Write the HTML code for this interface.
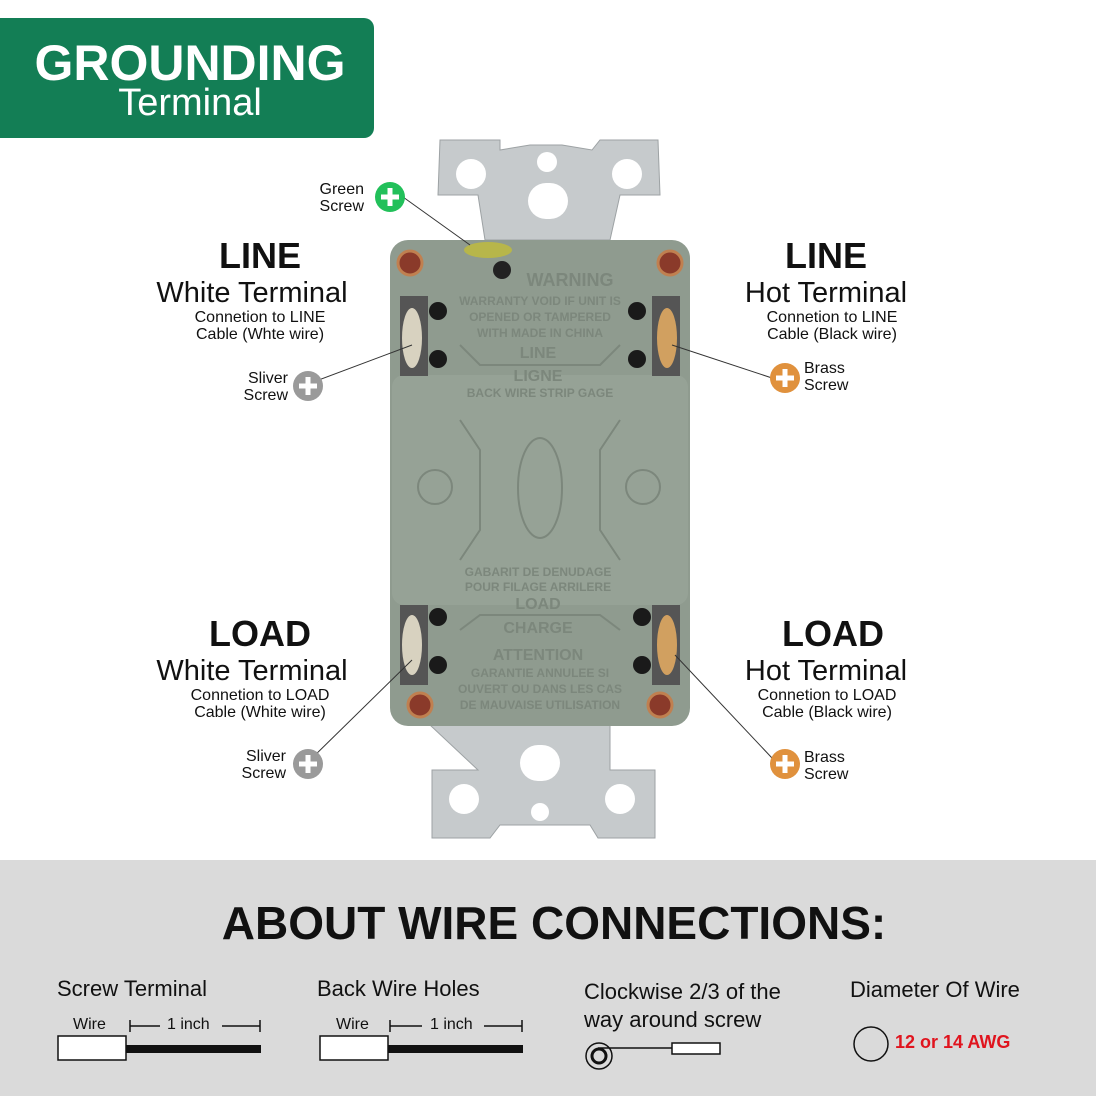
<!DOCTYPE html>
<html><head><meta charset="utf-8"><style>
body{margin:0;width:1096px;height:1096px;background:#fff;position:relative;overflow:hidden;font-family:"Liberation Sans","DejaVu Sans",sans-serif;}
.a{position:absolute;}
.t{position:absolute;text-align:center;color:#111;line-height:1;}
</style></head><body>
<div class="a" style="left:0;top:18px;width:374px;height:120px;background:#137e55;border-radius:0 10px 10px 0"></div>
<div class="t" style="left:0;top:38px;width:380px;color:#fff;font-size:50px;font-weight:bold">GROUNDING</div>
<div class="t" style="left:0;top:84px;width:380px;color:#fff;font-size:38px">Terminal</div>

<svg class="a" style="left:0;top:0" width="1096" height="860">
<!-- strap -->
<path d="M440 140 L500 140 L500 150 L530 145 L562 145 L592 150 L600 140 L658 140 L660 195 L620 195 L610 240 L485 240 L478 195 L438 195 Z" fill="#c6cacc" stroke="#9da2a4"/>
<path d="M430 725 L610 725 L610 770 L655 770 L655 838 L598 838 L590 825 L500 825 L490 838 L432 838 L432 770 L478 770 Z" fill="#c6cacc" stroke="#9da2a4"/>
<circle cx="471" cy="174" r="15" fill="#fff"/><circle cx="627" cy="174" r="15" fill="#fff"/><circle cx="547" cy="162" r="10" fill="#fff"/>
<rect x="528" y="183" width="40" height="36" rx="18" fill="#fff"/>
<circle cx="464" cy="799" r="15" fill="#fff"/><circle cx="620" cy="799" r="15" fill="#fff"/><circle cx="540" cy="812" r="9" fill="#fff"/>
<rect x="520" y="745" width="40" height="36" rx="18" fill="#fff"/>
<!-- body -->
<rect x="390" y="240" width="300" height="486" rx="18" fill="#8f9b8f"/>
<rect x="392" y="375" width="296" height="230" rx="12" fill="#96a296"/>
<!-- side slots -->
<rect x="400" y="296" width="28" height="80" fill="#555"/><rect x="652" y="296" width="28" height="80" fill="#555"/>
<rect x="400" y="605" width="28" height="80" fill="#555"/><rect x="652" y="605" width="28" height="80" fill="#555"/>
<ellipse cx="412" cy="338" rx="10" ry="30" fill="#d8d2c0"/><ellipse cx="667" cy="338" rx="10" ry="30" fill="#d1a060"/>
<ellipse cx="412" cy="645" rx="10" ry="30" fill="#d8d2c0"/><ellipse cx="667" cy="645" rx="10" ry="30" fill="#d1a060"/>
<!-- green screw -->
<ellipse cx="488" cy="250" rx="24" ry="8" fill="#b7b64a"/>
<circle cx="502" cy="270" r="9" fill="#222"/>
<!-- corner screws -->
<g fill="#8a3a2a" stroke="#c08050" stroke-width="3">
<circle cx="410" cy="263" r="12"/><circle cx="670" cy="263" r="12"/><circle cx="420" cy="705" r="12"/><circle cx="660" cy="705" r="12"/></g>
<g fill="#1a1a1a"><circle cx="438" cy="311" r="9"/><circle cx="438" cy="359" r="9"/><circle cx="637" cy="311" r="9"/><circle cx="637" cy="359" r="9"/>
<circle cx="438" cy="617" r="9"/><circle cx="438" cy="665" r="9"/><circle cx="642" cy="617" r="9"/><circle cx="642" cy="665" r="9"/></g>
<g fill="#7c877c" font-weight="bold" text-anchor="middle" font-family="Liberation Sans, sans-serif">
<text x="570" y="286" font-size="18">WARNING</text>
<text x="540" y="305" font-size="12">WARRANTY VOID IF UNIT IS</text>
<text x="540" y="321" font-size="12">OPENED OR TAMPERED</text>
<text x="540" y="337" font-size="12">WITH MADE IN CHINA</text>
<text x="538" y="358" font-size="16">LINE</text>
<text x="538" y="381" font-size="16">LIGNE</text>
<text x="540" y="397" font-size="12">BACK WIRE STRIP GAGE</text>
<text x="538" y="576" font-size="12">GABARIT DE DENUDAGE</text>
<text x="538" y="591" font-size="12">POUR FILAGE ARRILERE</text>
<text x="538" y="609" font-size="16">LOAD</text>
<text x="538" y="633" font-size="16">CHARGE</text>
<text x="538" y="660" font-size="16">ATTENTION</text>
<text x="540" y="677" font-size="12">GARANTIE ANNULEE SI</text>
<text x="540" y="693" font-size="12">OUVERT OU DANS LES CAS</text>
<text x="540" y="709" font-size="12">DE MAUVAISE UTILISATION</text>
</g>
<ellipse cx="540" cy="488" rx="22" ry="50" fill="none" stroke="#7c877c" stroke-width="2"/>
<circle cx="435" cy="487" r="17" fill="none" stroke="#7c877c" stroke-width="2"/><circle cx="643" cy="487" r="17" fill="none" stroke="#7c877c" stroke-width="2"/>
<g stroke="#7c877c" stroke-width="2" fill="none"><path d="M460 345 L480 365 L600 365 L620 345"/><path d="M460 420 L480 450 L480 530 L460 560"/><path d="M620 420 L600 450 L600 530 L620 560"/><path d="M460 630 L480 615 L600 615 L620 630"/></g>
<!-- leader lines -->
<g stroke="#333" stroke-width="1"><line x1="403" y1="197" x2="470" y2="245"/><line x1="308" y1="384" x2="412" y2="345"/><line x1="672" y1="345" x2="772" y2="378"/><line x1="308" y1="762" x2="412" y2="660"/><line x1="675" y1="655" x2="772" y2="758"/></g>
<g font-weight="bold" fill="#fff">
<circle cx="390" cy="197" r="15" fill="#22c05a"/><circle cx="308" cy="386" r="15" fill="#9a9a9a"/><circle cx="785" cy="378" r="15" fill="#e0913d"/><circle cx="308" cy="764" r="15" fill="#9a9a9a"/><circle cx="785" cy="764" r="15" fill="#e0913d"/>
</g>
<g stroke="#fff" stroke-width="5"><path d="M381 197h18M390 188v18M299 386h18M308 377v18M776 378h18M785 369v18M299 764h18M308 755v18M776 764h18M785 755v18"/></g>
</svg>

<div class="t" style="left:300px;top:181px;width:64px;text-align:right;font-size:16px;line-height:17px">Green<br>Screw</div>
<div class="t" style="left:220px;top:370px;width:68px;text-align:right;font-size:16px;line-height:17px">Sliver<br>Screw</div>
<div class="t" style="left:218px;top:748px;width:68px;text-align:right;font-size:16px;line-height:17px">Sliver<br>Screw</div>
<div class="t" style="left:804px;top:360px;text-align:left;font-size:16px;line-height:17px">Brass<br>Screw</div>
<div class="t" style="left:804px;top:749px;text-align:left;font-size:16px;line-height:17px">Brass<br>Screw</div>

<div class="t" style="left:110px;top:238px;width:300px;font-size:36px;font-weight:bold">LINE</div>
<div class="t" style="left:102px;top:279px;width:300px;font-size:29px">White Terminal</div>
<div class="t" style="left:110px;top:309px;width:300px;font-size:16px;line-height:17px">Connetion to LINE<br>Cable (Whte wire)</div>
<div class="t" style="left:676px;top:238px;width:300px;font-size:36px;font-weight:bold">LINE</div>
<div class="t" style="left:676px;top:279px;width:300px;font-size:29px">Hot Terminal</div>
<div class="t" style="left:682px;top:309px;width:300px;font-size:16px;line-height:17px">Connetion to LINE<br>Cable (Black wire)</div>
<div class="t" style="left:110px;top:616px;width:300px;font-size:36px;font-weight:bold">LOAD</div>
<div class="t" style="left:102px;top:657px;width:300px;font-size:29px">White Terminal</div>
<div class="t" style="left:110px;top:687px;width:300px;font-size:16px;line-height:17px">Connetion to LOAD<br>Cable (White wire)</div>
<div class="t" style="left:683px;top:616px;width:300px;font-size:36px;font-weight:bold">LOAD</div>
<div class="t" style="left:676px;top:657px;width:300px;font-size:29px">Hot Terminal</div>
<div class="t" style="left:677px;top:687px;width:300px;font-size:16px;line-height:17px">Connetion to LOAD<br>Cable (Black wire)</div>

<div class="a" style="left:0;top:860px;width:1096px;height:236px;background:#dadada"></div>
<div class="t" style="left:0;top:900px;width:1108px;font-size:46px;font-weight:bold">ABOUT WIRE CONNECTIONS:</div>
<div class="t" style="left:57px;top:978px;font-size:22px;text-align:left">Screw Terminal</div>
<div class="t" style="left:317px;top:978px;font-size:22px;text-align:left">Back Wire Holes</div>
<div class="t" style="left:584px;top:978px;font-size:22px;text-align:left;line-height:28px">Clockwise 2/3 of the<br>way around screw</div>
<div class="t" style="left:850px;top:979px;font-size:22px;text-align:left">Diameter Of Wire</div>
<div class="t" style="left:895px;top:1033px;font-size:18px;font-weight:bold;color:#e0141e;text-align:left">12 or 14 AWG</div>
<div class="t" style="left:73px;top:1017px;font-size:16px;text-align:left">Wire</div>
<div class="t" style="left:167px;top:1017px;font-size:16px;text-align:left">1 inch</div>
<div class="t" style="left:336px;top:1017px;font-size:16px;text-align:left">Wire</div>
<div class="t" style="left:430px;top:1017px;font-size:16px;text-align:left">1 inch</div>
<svg class="a" style="left:0;top:860px" width="1096" height="236">
<g stroke="#111" fill="none" stroke-width="1.5">
<rect x="58" y="176" width="68" height="24" fill="#fff"/><rect x="320" y="176" width="68" height="24" fill="#fff"/>
<path d="M130 160v12M130 166h30M222 166h38M260 160v12M390 160v12M390 166h32M484 166h38M522 160v12"/>
<rect x="672" y="183" width="48" height="11" fill="#fff"/><path d="M598 188h74"/>
<circle cx="599" cy="196" r="13"/><circle cx="599" cy="196" r="7" stroke-width="3"/>
<circle cx="871" cy="184" r="17"/>
</g>
<rect x="126" y="185" width="135" height="8" fill="#111"/><rect x="388" y="185" width="135" height="8" fill="#111"/>
</svg>
</body></html>
